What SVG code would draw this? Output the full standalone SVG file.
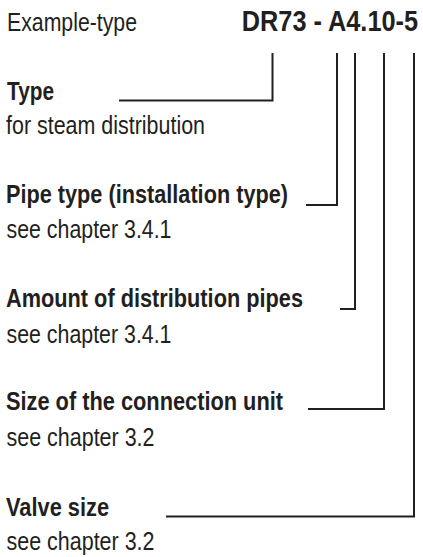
<svg xmlns="http://www.w3.org/2000/svg" width="423" height="557" viewBox="0 0 423 557">
<style>
text{font-family:"Liberation Sans",Arial,sans-serif;fill:#231f20}
.r{font-size:25.5px}
.b{font-size:25px;font-weight:bold}
.t{font-size:25.3px;font-weight:bold}
.c{fill:none;stroke:#231f20;stroke-width:2}
</style>
<rect width="423" height="557" fill="#fff"/>
<g id="header">
<text class="r" x="7" y="31" textLength="130" lengthAdjust="spacingAndGlyphs">Example-type</text>
<text class="t" transform="translate(418 31) scale(1 1.15)" x="0" y="0" text-anchor="end">DR73 - A4.10-5</text>
</g>
<g id="type">
<text class="b" x="7" y="100" textLength="47" lengthAdjust="spacingAndGlyphs">Type</text>
<text class="r" x="6" y="134" textLength="199" lengthAdjust="spacingAndGlyphs">for steam distribution</text>
</g>
<g id="pipe-type">
<text class="b" x="6" y="203" textLength="282" lengthAdjust="spacingAndGlyphs">Pipe type (installation type)</text>
<text class="r" x="6.5" y="238" textLength="165" lengthAdjust="spacingAndGlyphs">see chapter 3.4.1</text>
</g>
<g id="amount">
<text class="b" x="6" y="307" textLength="297" lengthAdjust="spacingAndGlyphs">Amount of distribution pipes</text>
<text class="r" x="6.5" y="343" textLength="165" lengthAdjust="spacingAndGlyphs">see chapter 3.4.1</text>
</g>
<g id="size">
<text class="b" x="6" y="410" textLength="277" lengthAdjust="spacingAndGlyphs">Size of the connection unit</text>
<text class="r" x="6.5" y="446" textLength="148" lengthAdjust="spacingAndGlyphs">see chapter 3.2</text>
</g>
<g id="valve">
<text class="b" x="6" y="516" textLength="103" lengthAdjust="spacingAndGlyphs">Valve size</text>
<text class="r" x="6.5" y="550" textLength="148" lengthAdjust="spacingAndGlyphs">see chapter 3.2</text>
</g>
<g id="connectors">
<path class="c" d="M272.5 53V100.5H119"/>
<path class="c" d="M337 53V205H306"/>
<path class="c" d="M355 53V309H340"/>
<path class="c" d="M384 53V409H308"/>
<path class="c" d="M414 53V516.5H166"/>
</g>
</svg>
